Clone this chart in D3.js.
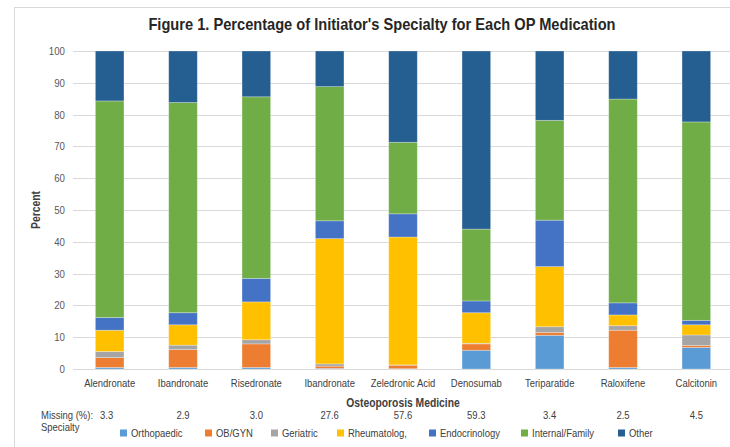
<!DOCTYPE html>
<html>
<head>
<meta charset="utf-8">
<script src="https://cdn.jsdelivr.net/npm/d3@7"></script>
<style>
  body { margin: 0; background: #fff; }
  svg { display: block; font-family: "Liberation Sans", Arial, sans-serif; }
</style>
</head>
<body>
<svg id="chart" width="730" height="447"></svg>
<script>
// 薬剤カテゴリ
const medicines = ["Alendronate", "Ibandronate", "Risedronate", "Ibandronate ", "Zeledronic Acid",
  "Denosumab", "Teriparatide", "Raloxifene", "Calcitonin"];
const medicineLabels = ["Alendronate", "Ibandronate", "Risedronate", "Ibandronate", "Zeledronic Acid",
  "Denosumab", "Teriparatide", "Raloxifene", "Calcitonin"];

// 専門科ごとの割合 (%)
const specialties = ["Orthopaedic", "OB/GYN", "Geriatric", "Rheumatolog,", "Endocrinology", "Internal/Family", "Other"];
const orthopaedic = [0.5, 0.5, 0.5, 0.2, 0.1, 5.9, 10.6, 0.5, 6.8];
const obgyn       = [3.1, 5.6, 7.4, 0.7, 1.1, 2.0, 0.9, 11.7, 0.6];
const geriatric   = [1.9, 1.4, 1.3, 0.7, 0.1, 0.2, 1.8, 1.4, 3.3];
const rheumatolog = [6.7, 6.4, 11.9, 39.4, 40.2, 9.6, 18.9, 3.4, 3.2];
const endocrine   = [4.0, 3.8, 7.4, 5.6, 7.3, 3.7, 14.6, 3.8, 1.4];
const internal    = [68.1, 66.1, 57.1, 42.2, 22.5, 22.6, 31.4, 64.1, 62.4];
const other       = [15.7, 16.2, 14.4, 11.2, 28.7, 56.0, 21.8, 15.1, 22.3];
const missing     = ["3.3", "2.9", "3.0", "27.6", "57.6", "59.3", "3.4", "2.5", "4.5"];
const yTicks = [0, 10, 20, 30, 40, 50, 60, 70, 80, 90, 100];

const colors = ["#5B9BD5", "#ED7D31", "#A5A5A5", "#FFC000", "#4472C4", "#70AD47", "#255E91"];

const seriesValues = [orthopaedic, obgyn, geriatric, rheumatolog, endocrine, internal, other];
const table = medicines.map((m, i) => {
  const row = { medicine: m };
  specialties.forEach((s, k) => { row[s] = seriesValues[k][i]; });
  return row;
});

// Calibri風に横幅を詰める
function condense(sel, f) {
  sel.each(function () {
    const w = this.getComputedTextLength();
    d3.select(this).attr("textLength", w * f).attr("lengthAdjust", "spacingAndGlyphs");
  });
}

const svg = d3.select("#chart");
const margin = { left: 73, right: 733, top: 51, bottom: 369 };

// チャート枠
svg.append("rect")
  .attr("x", 14.5).attr("y", 7.5)
  .attr("width", 730).attr("height", 460)
  .attr("fill", "none").attr("stroke", "#D9D9D9");

const x = d3.scaleBand().domain(medicines).range([margin.left, margin.right])
  .paddingInner(0.61).paddingOuter(0.305);
const y = d3.scaleLinear().domain([0, 100]).range([margin.bottom, margin.top]);

// タイトル
svg.append("text")
  .attr("x", 382).attr("y", 30)
  .attr("text-anchor", "middle")
  .attr("font-size", 17).attr("font-weight", "bold")
  .attr("fill", "#262626")
  .text("Figure 1. Percentage of Initiator's Specialty for Each OP Medication")
  .call(condense, 0.86);

// グリッド線
svg.append("g")
  .selectAll("line")
  .data(yTicks)
  .join("line")
  .attr("x1", margin.left).attr("x2", 730)
  .attr("y1", d => Math.round(y(d)) + 0.5).attr("y2", d => Math.round(y(d)) + 0.5)
  .attr("stroke", "#D9D9D9").attr("stroke-width", 1);

// Y軸
const yAxis = svg.append("g")
  .attr("transform", `translate(${margin.left - 8},0)`)
  .call(d3.axisLeft(y).tickValues(yTicks).tickSize(0).tickPadding(0));
yAxis.select(".domain").remove();
yAxis.selectAll("text").attr("font-size", 11).attr("fill", "#595959").attr("font-family", null)
  .call(condense, 0.88);

svg.append("text")
  .attr("transform", `translate(40,${(margin.top + margin.bottom) / 2}) rotate(-90)`)
  .attr("text-anchor", "middle")
  .attr("font-size", 12).attr("font-weight", "bold").attr("fill", "#404040")
  .text("Percent")
  .call(condense, 0.86);

// 積み上げ棒
const stack = d3.stack().keys(specialties)(table);
svg.append("g")
  .selectAll("g")
  .data(stack)
  .join("g")
  .attr("fill", (d, i) => colors[i])
  .selectAll("rect")
  .data(d => d)
  .join("rect")
  .attr("x", d => x(d.data.medicine))
  .attr("width", x.bandwidth())
  .attr("y", d => y(d[1]))
  .attr("height", d => y(d[0]) - y(d[1]))
  .attr("stroke", "#fff").attr("stroke-opacity", 0.35).attr("stroke-width", 0.8);

// X軸ラベル
const xAxis = svg.append("g")
  .attr("transform", `translate(0,${margin.bottom + 6})`)
  .call(d3.axisBottom(x).tickSize(0).tickPadding(4).tickFormat((d, i) => medicineLabels[i]));
xAxis.select(".domain").remove();
xAxis.selectAll("text").attr("font-size", 11).attr("fill", "#404040").attr("font-family", null)
  .call(condense, 0.86);

svg.append("text")
  .attr("x", (margin.left + margin.right) / 2).attr("y", 407)
  .attr("text-anchor", "middle")
  .attr("font-size", 12).attr("font-weight", "bold").attr("fill", "#404040")
  .text("Osteoporosis Medicine")
  .call(condense, 0.86);

// 欠測率
svg.append("text")
  .attr("x", 41).attr("y", 419)
  .attr("font-size", 11).attr("fill", "#404040")
  .text("Missing (%):")
  .call(condense, 0.86);
svg.append("g")
  .selectAll("text")
  .data(missing)
  .join("text")
  .attr("x", (d, i) => x(medicines[i]) + x.bandwidth() / 2 - (i === 0 ? 3 : 0))
  .attr("y", 419)
  .attr("text-anchor", "middle")
  .attr("font-size", 11).attr("fill", "#404040")
  .text(d => d)
  .call(condense, 0.86);

// 凡例
svg.append("text")
  .attr("x", 41).attr("y", 431)
  .attr("font-size", 11).attr("fill", "#404040")
  .text("Specialty")
  .call(condense, 0.86);

const legendX = [120, 205, 271, 337, 429, 521, 618];
const legend = svg.append("g")
  .selectAll("g")
  .data(specialties)
  .join("g")
  .attr("transform", (d, i) => `translate(${legendX[i]},433)`);
legend.append("rect")
  .attr("x", 0).attr("y", -3.5)
  .attr("width", 7).attr("height", 7)
  .attr("fill", (d, i) => colors[i]);
legend.append("text")
  .attr("x", 11).attr("y", 4)
  .attr("font-size", 11).attr("fill", "#404040")
  .text(d => d)
  .call(condense, 0.86);
</script>
</body>
</html>
